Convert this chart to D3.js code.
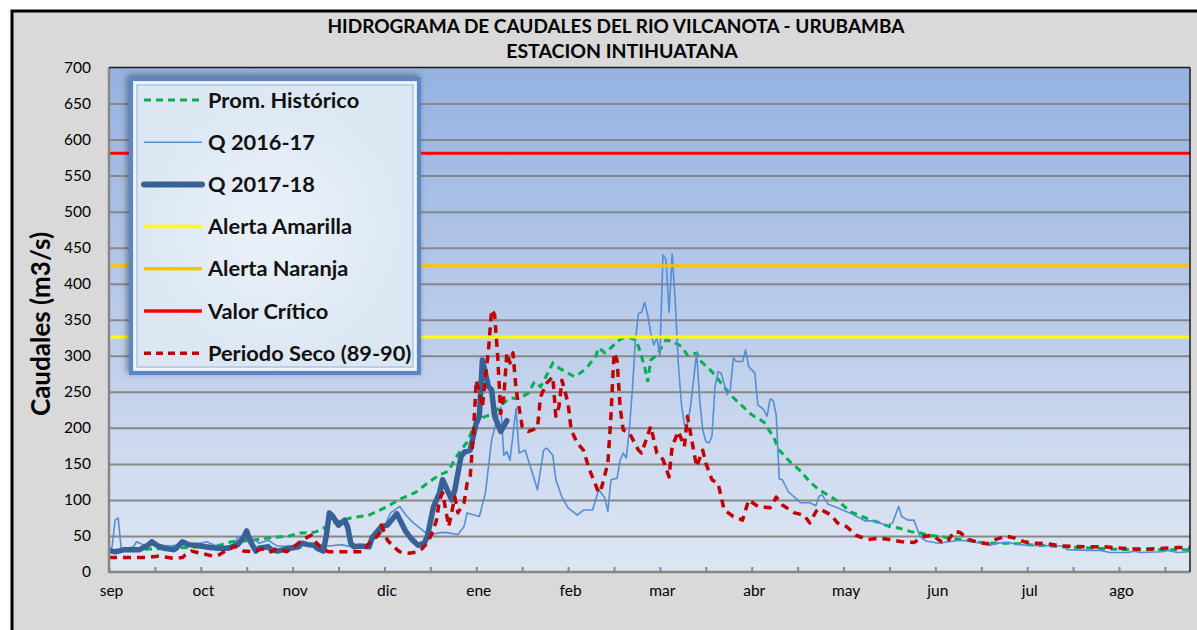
<!DOCTYPE html>
<html><head><meta charset="utf-8">
<script src="https://cdn.jsdelivr.net/npm/d3@7"></script>
<style>
body{margin:0;background:#fff;}
text{font-family:Lato,'Liberation Sans',sans-serif;}
</style>
</head><body>
<svg id="chart" width="1197" height="630"></svg>
<script>
// ---------------- DATA ----------------
const titleLines = ["HIDROGRAMA DE CAUDALES DEL RIO VILCANOTA - URUBAMBA", "ESTACION INTIHUATANA"];
const yAxisTitle = "Caudales (m3/s)";
const monthLabels = ["sep","oct","nov","dic","ene","feb","mar","abr","may","jun","jul","ago"];
const yTickValues = [0,50,100,150,200,250,300,350,400,450,500,550,600,650,700];
const seriesNames = ["Prom. Histórico","Q 2016-17","Q 2017-18","Alerta Amarilla","Alerta Naranja","Valor Crítico","Periodo Seco (89-90)"];
const alertaAmarilla = 326;
const alertaNaranja = 425;
const valorCritico = 581;
const daysInSeason = 353.2;

// [day since 1 sep, caudal m3/s]
const promHistorico = [[0,30],[15,32],[30,35],[36,37],[40,42],[47,44],[50,46],[54,48],[59,50],[62,54],[67,55],[69,58],[73,68],[79,75],[85,79],[91,91],[96,103],[100,110],[104,123],[108,135],[111,140],[113,157],[115,169],[117,180],[119,200],[122,214],[126,221],[128,232],[131,241],[134,241],[137,248],[139,264],[141,257],[143,273],[145,290],[147,283],[150,276],[152,271],[154,276],[156,283],[159,299],[160,311],[162,304],[164,311],[166,320],[169,327],[172,322],[173,313],[175,285],[176,264],[177,294],[179,301],[180,308],[182,322],[184,320],[187,313],[189,301],[192,304],[193,294],[197,278],[200,262],[203,246],[206,234],[210,218],[214,208],[217,188],[219,169],[221,160],[222,155],[226,140],[229,125],[232,114],[236,104],[239,96],[242,84],[246,77],[249,72],[252,68],[255,63],[258,61],[262,56],[265,54],[268,51],[272,49],[275,47],[280,44],[285,41],[289,40],[295,40],[300,38],[311,35],[322,33],[333,31],[343,31],[353,31]];

const q2016_17 = [[0,30],[1,35],[2,72],[3,75],[4,32],[6,33],[8,35],[9,42],[12,36],[15,38],[20,36],[23,38],[30,40],[32,42],[35,36],[38,35],[41,38],[42,48],[45,49],[47,47],[49,40],[52,44],[55,36],[60,36],[66,38],[69,38],[72,36],[76,38],[79,35],[83,36],[85,40],[89,54],[92,82],[95,91],[97,79],[99,70],[103,56],[105,49],[107,54],[110,55],[114,52],[116,63],[117,82],[121,77],[123,110],[125,183],[127,216],[128,229],[129,162],[130,167],[131,155],[133,227],[134,165],[136,169],[138,142],[140,114],[142,169],[143,172],[145,162],[146,128],[148,104],[150,89],[153,79],[155,86],[158,86],[160,114],[162,103],[163,84],[164,128],[166,130],[167,155],[168,165],[169,158],[170,197],[171,253],[172,322],[173,359],[174,360],[175,374],[176,357],[177,332],[178,315],[179,325],[180,300],[181,440],[182,433],[183,360],[184,441],[185,377],[186,290],[187,234],[188,204],[189,205],[190,229],[192,304],[193,239],[194,197],[195,181],[196,179],[197,188],[198,257],[199,278],[200,276],[202,246],[203,253],[204,297],[205,292],[207,292],[208,308],[209,285],[211,276],[212,232],[214,225],[215,216],[216,240],[217,238],[218,218],[219,129],[220,128],[222,111],[225,100],[226,96],[229,96],[231,92],[232,105],[233,107],[235,94],[238,89],[242,82],[247,71],[250,71],[252,68],[254,64],[256,68],[258,91],[259,77],[261,72],[263,72],[265,49],[267,43],[271,40],[278,44],[282,42],[285,40],[288,37],[290,40],[294,41],[296,39],[300,37],[311,36],[312,36],[313,31],[320,30],[324,30],[327,27],[333,27],[335,29],[337,27],[344,28],[346,30],[349,27],[353,28]];

const q2017_18 = [[0,30],[2,28],[5,31],[10,31],[13,38],[14,42],[16,36],[18,33],[21,31],[22,33],[24,42],[26,38],[30,36],[33,34],[36,33],[39,33],[42,38],[44,48],[45,57],[46,44],[48,29],[49,33],[52,35],[53,31],[55,29],[57,31],[59,33],[62,35],[63,40],[65,38],[67,37],[68,33],[70,29],[71,50],[72,82],[73,78],[75,65],[77,72],[78,62],[79,40],[80,35],[82,36],[85,35],[86,48],[89,63],[91,65],[94,81],[97,56],[99,45],[101,37],[103,40],[104,49],[106,90],[108,110],[109,128],[112,100],[113,114],[115,160],[116,166],[118,169],[120,207],[121,216],[122,294],[124,257],[125,253],[126,216],[128,195],[130,210]];

const periodoSeco = [[0,20],[5,20],[12,20],[16,22],[18,21],[21,19],[24,20],[25,24],[27,29],[30,26],[34,22],[36,24],[38,29],[41,36],[44,29],[47,28],[50,32],[53,28],[55,33],[58,28],[61,37],[63,44],[66,51],[67,44],[69,35],[70,31],[72,28],[78,28],[83,28],[85,40],[88,51],[89,65],[91,44],[93,35],[95,28],[98,26],[101,28],[102,31],[104,40],[105,49],[106,58],[107,72],[108,100],[109,110],[111,63],[113,104],[114,82],[116,96],[117,123],[118,132],[119,188],[120,266],[121,248],[122,229],[123,271],[124,308],[125,364],[126,357],[127,299],[128,220],[129,243],[130,304],[131,290],[132,304],[133,253],[135,202],[137,195],[140,200],[141,243],[143,262],[145,271],[146,216],[147,229],[148,266],[150,234],[151,197],[153,179],[155,169],[157,142],[160,110],[161,118],[163,151],[164,216],[165,304],[166,294],[167,229],[168,197],[170,193],[173,169],[174,165],[177,202],[179,165],[181,156],[183,132],[184,174],[186,195],[188,174],[189,216],[191,169],[192,146],[194,169],[195,151],[197,128],[199,123],[201,86],[204,77],[207,72],[209,100],[212,91],[216,89],[218,104],[220,93],[224,82],[226,80],[227,79],[229,68],[231,84],[232,88],[236,79],[238,68],[241,63],[244,51],[248,45],[252,47],[255,45],[259,42],[263,41],[266,49],[269,51],[272,42],[274,42],[276,56],[278,55],[281,45],[284,41],[287,39],[289,44],[293,50],[296,47],[299,42],[302,40],[307,39],[311,36],[320,35],[325,35],[331,33],[335,32],[340,32],[345,33],[349,34],[353,34]];

// ---------------- CHART ----------------
const svg = d3.select("#chart");
const W = 1197, H = 630;
const plot = {left:109, right:1190, top:67.5, bottom:572};

const x = d3.scaleLinear().domain([0, daysInSeason]).range([plot.left, plot.right]);
const y = d3.scaleLinear().domain([0, 700]).range([plot.bottom, plot.top]);

const defs = svg.append("defs");
const grad = defs.append("linearGradient").attr("id","plotBg").attr("x1",0).attr("y1",0).attr("x2",0).attr("y2",1);
grad.append("stop").attr("offset","0%").attr("stop-color","#95B2E1");
grad.append("stop").attr("offset","50%").attr("stop-color","#BACCEA");
grad.append("stop").attr("offset","100%").attr("stop-color","#DEE6F3");
const lgGrad = defs.append("radialGradient").attr("id","legBg");
lgGrad.append("stop").attr("offset","0%").attr("stop-color","#EAF1F9");
lgGrad.append("stop").attr("offset","100%").attr("stop-color","#DCE7F4");
const shadow = defs.append("filter").attr("id","shadow").attr("x","-10%").attr("y","-10%").attr("width","120%").attr("height","120%");
shadow.append("feDropShadow").attr("dx",-2).attr("dy",-2).attr("stdDeviation",3).attr("flood-color","#333").attr("flood-opacity",0.55);

// chart area frame
svg.append("rect").attr("x",0).attr("y",0).attr("width",W).attr("height",H).attr("fill","#fff");
svg.append("rect").attr("x",12).attr("y",11).attr("width",1210).attr("height",650)
  .attr("fill","#D9D9D9").attr("stroke","#000").attr("stroke-width",3);

// plot background
svg.append("rect").attr("x",plot.left).attr("y",plot.top).attr("width",plot.right-plot.left).attr("height",plot.bottom-plot.top)
  .attr("fill","url(#plotBg)");

// gridlines
svg.append("g").attr("transform",`translate(${plot.left},0)`)
  .call(d3.axisLeft(y).tickValues(yTickValues.filter(v=>v>0 && v<700)).tickSize(-(plot.right-plot.left)).tickFormat(""))
  .call(g=>g.select(".domain").remove())
  .call(g=>g.selectAll("line").attr("stroke","#878787").attr("stroke-width",2));

// y tick labels
svg.append("g").attr("transform",`translate(${plot.left-15},0)`)
  .call(d3.axisLeft(y).tickValues(yTickValues).tickSize(0).tickFormat(d3.format("d")))
  .call(g=>g.select(".domain").remove())
  .call(g=>g.selectAll("text").attr("font-size",15.5).attr("fill","#000").attr("font-family","Lato"));

// x axis inside ticks
svg.append("g").attr("transform",`translate(0,${plot.bottom})`)
  .call(d3.axisBottom(x).tickValues(d3.range(0,351,15)).tickSize(-5).tickFormat(""))
  .call(g=>g.select(".domain").remove())
  .call(g=>g.selectAll("line").attr("stroke","#878787").attr("stroke-width",2));

// month labels
svg.append("g").attr("transform",`translate(2,${plot.bottom+10})`)
  .call(d3.axisBottom(x).tickValues(monthLabels.map((m,i)=>i*30)).tickSize(0).tickFormat((d,i)=>monthLabels[i]))
  .call(g=>g.select(".domain").remove())
  .call(g=>g.selectAll("text").attr("font-size",15.5).attr("fill","#000").attr("font-family","Lato"));

const line = d3.line().x(d=>x(d[0])).y(d=>y(d[1])).curve(d3.curveLinear);
const clip = defs.append("clipPath").attr("id","clipPlot").append("rect")
  .attr("x",plot.left).attr("y",plot.top).attr("width",plot.right-plot.left).attr("height",plot.bottom-plot.top);
const series = svg.append("g").attr("clip-path","url(#clipPlot)");

series.append("path").datum(promHistorico).attr("d",line).attr("fill","none")
  .attr("stroke","#00B050").attr("stroke-width",3).attr("stroke-dasharray","7,5");
series.append("path").datum(q2016_17).attr("d",line).attr("fill","none")
  .attr("stroke","#558ED5").attr("stroke-width",1.6).attr("stroke-linejoin","round");
series.append("path").datum(q2017_18).attr("d",line).attr("fill","none")
  .attr("stroke","#386195").attr("stroke-width",5.5).attr("stroke-linejoin","round").attr("stroke-linecap","round");

const thresholds = [[alertaAmarilla,"#FFFF00"],[alertaNaranja,"#FFC000"],[valorCritico,"#FF0000"]];
thresholds.forEach(([v,c])=>{
  series.append("path").datum([[0,v],[daysInSeason,v]]).attr("d",line)
    .attr("stroke",c).attr("stroke-width",3).attr("fill","none");
});
series.append("path").datum(periodoSeco).attr("d",line).attr("fill","none")
  .attr("stroke","#C00000").attr("stroke-width",3.5).attr("stroke-dasharray","8,6").attr("stroke-linejoin","round");

// axes borders
svg.append("line").attr("x1",plot.left).attr("x2",plot.left).attr("y1",plot.top).attr("y2",plot.bottom+1)
  .attr("stroke","#878787").attr("stroke-width",2.5);
svg.append("line").attr("x1",plot.left).attr("x2",plot.right).attr("y1",plot.bottom).attr("y2",plot.bottom)
  .attr("stroke","#878787").attr("stroke-width",2.5);
svg.append("line").attr("x1",plot.left).attr("x2",plot.right).attr("y1",plot.top).attr("y2",plot.top)
  .attr("stroke","#1a1a1a").attr("stroke-width",1.5);
svg.append("line").attr("x1",plot.right).attr("x2",plot.right).attr("y1",plot.top).attr("y2",plot.bottom)
  .attr("stroke","#1a1a1a").attr("stroke-width",1.5);

// titles
svg.append("text").attr("x",616).attr("y",33).attr("text-anchor","middle")
  .attr("font-size",19).attr("font-weight","bold").attr("fill","#000").text(titleLines[0]);
svg.append("text").attr("x",622).attr("y",58).attr("text-anchor","middle")
  .attr("font-size",19.5).attr("font-weight","bold").attr("fill","#000").text(titleLines[1]);
svg.append("text").attr("transform","translate(50,324) rotate(-90)").attr("text-anchor","middle")
  .attr("font-size",26).attr("font-weight","bold").attr("fill","#000").text(yAxisTitle);

// legend
const lg = svg.append("g");
lg.append("rect").attr("x",131).attr("y",79).attr("width",288).attr("height",294)
  .attr("fill","url(#legBg)").attr("stroke","#5B87C5").attr("stroke-width",4).attr("filter","url(#shadow)");
lg.append("rect").attr("x",135).attr("y",83).attr("width",280).attr("height",286)
  .attr("fill","none").attr("stroke","#FFFFFF").attr("stroke-width",1.2);
lg.append("rect").attr("x",137).attr("y",85).attr("width",276).attr("height",282)
  .attr("fill","none").attr("stroke","#8CAAD6").attr("stroke-width",0.8);

const legStyles = [
  {c:"#00B050", w:3, dash:"7,5"},
  {c:"#558ED5", w:1.6, dash:null},
  {c:"#386195", w:6, dash:null, cap:"round"},
  {c:"#FFFF00", w:3.5, dash:null},
  {c:"#FFC000", w:3.5, dash:null},
  {c:"#FF0000", w:3.5, dash:null},
  {c:"#C00000", w:3.5, dash:"7,5"}
];
seriesNames.forEach((name,i)=>{
  const yy = 100 + i*42.2;
  const l = lg.append("line").attr("x1",144).attr("x2",202).attr("y1",yy).attr("y2",yy)
    .attr("stroke",legStyles[i].c).attr("stroke-width",legStyles[i].w);
  if (legStyles[i].dash) l.attr("stroke-dasharray",legStyles[i].dash);
  if (legStyles[i].cap) l.attr("stroke-linecap",legStyles[i].cap);
  lg.append("text").attr("x",208).attr("y",yy+7.5).attr("font-size",21.8).attr("font-weight","bold")
    .attr("fill","#111").text(name);
});
</script>
</body></html>
